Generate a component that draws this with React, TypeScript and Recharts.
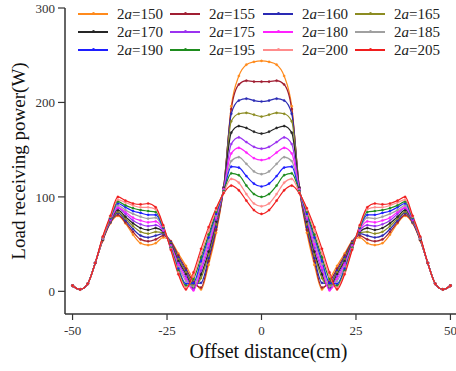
import { LineChart, Line, XAxis, YAxis, Legend } from "recharts";

const SERIF = "'Liberation Serif', 'Times New Roman', serif";
const AXIS = "#333";

// offset distance (cm), one sample every 2 cm
const offsets = [
  -50, -48, -46, -44, -42, -40, -38, -36, -34, -32, -30, -28, -26, -24, -22, -20, -18, -16, -14, -12, -10, -8, -6, -4, -2,
  0, 2, 4, 6, 8, 10, 12, 14, 16, 18, 20, 22, 24, 26, 28, 30, 32, 34, 36, 38, 40, 42, 44, 46, 48, 50,
];

const sizes = ["150", "155", "160", "165", "170", "175", "180", "185", "190", "195", "200", "205"];
const colors = [
  "#ff8a1c", "#a01e32", "#2a2ab4", "#8c8c22", "#262626", "#9b32f0",
  "#ff22ff", "#a0a0a0", "#1e1eff", "#1e8c1e", "#ff8c8c", "#f01e1e",
];

// load receiving power (W) per coil size 2a
const p150 = [6, 2, 8, 30, 54, 72, 80, 72, 60, 51, 49, 51, 57, 53, 40, 27, 13, 2, 28, 62, 110, 196, 228, 240, 243, 244,
  243, 240, 228, 196, 110, 62, 28, 2, 13, 27, 40, 53, 57, 51, 49, 51, 60, 72, 80, 72, 54, 30, 8, 2, 6];
const p155 = [6, 2, 8, 30, 54, 73, 81, 73, 63, 55, 53, 55, 59, 53, 38, 24, 10, 4, 32, 65, 110, 193, 219, 223, 222, 222,
  222, 223, 219, 193, 110, 65, 32, 4, 10, 24, 38, 53, 59, 55, 53, 55, 63, 73, 81, 73, 54, 30, 8, 2, 6];
const p160 = [6, 2, 8, 30, 55, 73, 83, 75, 66, 59, 57, 59, 61, 52, 36, 22, 8, 9, 35, 68, 110, 188, 202, 204, 202, 201,
  202, 204, 202, 188, 110, 68, 35, 9, 8, 22, 36, 52, 61, 59, 57, 59, 66, 75, 83, 73, 55, 30, 8, 2, 6];
const p165 = [6, 2, 8, 30, 55, 74, 84, 77, 69, 63, 61, 63, 62, 51, 34, 20, 6, 14, 39, 71, 109, 180, 188, 189, 187, 185,
  187, 189, 188, 180, 109, 71, 39, 14, 6, 20, 34, 51, 62, 63, 61, 63, 69, 77, 84, 74, 55, 30, 8, 2, 6];
const p170 = [6, 2, 8, 30, 55, 75, 86, 79, 72, 67, 65, 67, 63, 50, 32, 18, 4, 18, 42, 74, 109, 168, 175, 173, 169, 167,
  169, 173, 175, 168, 109, 74, 42, 18, 4, 18, 32, 50, 63, 67, 65, 67, 72, 79, 86, 75, 55, 30, 8, 2, 6];
const p175 = [6, 2, 8, 30, 56, 75, 88, 82, 75, 71, 69, 70, 64, 49, 30, 16, 2, 22, 46, 76, 108, 156, 163, 158, 153, 151,
  153, 158, 163, 156, 108, 76, 46, 22, 2, 16, 30, 49, 64, 70, 69, 71, 75, 82, 88, 75, 56, 30, 8, 2, 6];
const p180 = [6, 2, 8, 30, 56, 76, 89, 84, 78, 75, 73, 74, 65, 48, 28, 13, 1, 25, 50, 78, 108, 146, 152, 147, 141, 139,
  141, 147, 152, 146, 108, 78, 50, 25, 1, 13, 28, 48, 65, 74, 73, 75, 78, 84, 89, 76, 56, 30, 8, 2, 6];
const p185 = [6, 2, 8, 30, 56, 77, 91, 86, 82, 79, 77, 78, 66, 47, 26, 11, 5, 29, 53, 80, 107, 138, 142, 135, 127, 124,
  127, 135, 142, 138, 107, 80, 53, 29, 5, 11, 26, 47, 66, 78, 77, 79, 82, 86, 91, 77, 56, 30, 8, 2, 6];
const p190 = [6, 2, 8, 30, 57, 77, 93, 89, 85, 83, 81, 81, 67, 46, 24, 8, 9, 32, 57, 82, 106, 132, 131, 122, 114, 111,
  114, 122, 131, 132, 106, 82, 57, 32, 9, 8, 24, 46, 67, 81, 81, 83, 85, 89, 93, 77, 57, 30, 8, 2, 6];
const p195 = [6, 2, 8, 30, 57, 78, 95, 91, 88, 86, 85, 84, 68, 46, 22, 6, 13, 36, 60, 84, 106, 125, 123, 112, 103, 100,
  103, 112, 123, 125, 106, 84, 60, 36, 13, 6, 22, 46, 68, 84, 85, 86, 88, 91, 95, 78, 57, 30, 8, 2, 6];
const p200 = [6, 2, 8, 30, 57, 79, 97, 94, 91, 89, 89, 87, 69, 45, 20, 4, 16, 40, 64, 86, 105, 119, 115, 103, 93, 90,
  93, 103, 115, 119, 105, 86, 64, 40, 16, 4, 20, 45, 69, 87, 89, 89, 91, 94, 97, 79, 57, 30, 8, 2, 6];
const p205 = [6, 2, 8, 30, 58, 80, 100, 96, 93, 92, 93, 89, 70, 44, 18, 2, 20, 45, 68, 88, 104, 112, 107, 96, 86, 82,
  86, 96, 107, 112, 104, 88, 68, 45, 20, 2, 18, 44, 70, 89, 93, 92, 93, 96, 100, 80, 58, 30, 8, 2, 6];

const seriesValues = [p150, p155, p160, p165, p170, p175, p180, p185, p190, p195, p200, p205];

const xTicks = [-50, -25, 0, 25, 50];
const xMinorTicks = [-37.5, -12.5, 12.5, 37.5];
const yTicks = [0, 100, 200, 300];
const yMinorTicks = [50, 150, 250];

const data = offsets.map((x, i) => {
  const row: Record<string, number> = { x };
  sizes.forEach((s, k) => {
    row["a" + s] = seriesValues[k][i];
  });
  return row;
});

const legendCols = [78, 170, 263, 355];
const legendRows = [14, 32, 50];

const LegendBox = () => (
  <div style={{ position: "relative", width: 456, height: 62, fontFamily: SERIF, fontSize: 15, color: "#222" }}>
    {sizes.map((s, k) => (
      <div
        key={s}
        style={{
          position: "absolute",
          left: legendCols[k % 4],
          top: legendRows[Math.floor(k / 4)] - 9,
          height: 18,
          display: "flex",
          alignItems: "center",
          whiteSpace: "nowrap",
        }}
      >
        <span style={{ position: "relative", display: "inline-block", width: 30, height: 1.5, background: colors[k], marginRight: 9 }}>
          <span
            style={{
              position: "absolute",
              left: 13.5,
              top: -1,
              width: 3,
              height: 3,
              borderRadius: "50%",
              background: colors[k],
            }}
          />
        </span>
        <span>
          2<i>a</i>={s}
        </span>
      </div>
    ))}
  </div>
);

const tickStyle = { fontSize: 13, fill: "#333", fontFamily: SERIF, style: { fontFamily: SERIF } };

export default function App() {
  return (
    <div
      style={{
        position: "absolute",
        left: 0,
        top: 0,
        width: 456,
        height: 371,
        overflow: "hidden",
        background: "#fff",
        fontFamily: SERIF,
      }}
    >
      <LineChart width={458} height={371} data={data} margin={{ top: 8, right: 0, bottom: 0, left: 0 }}>
        <XAxis
          xAxisId="minor"
          type="number"
          dataKey="x"
          domain={[-52, 52]}
          ticks={xMinorTicks}
          tick={false}
          tickSize={4}
          height={0}
          axisLine={false}
          tickLine={{ stroke: AXIS, strokeWidth: 1.2 }}
        />
        <XAxis
          type="number"
          dataKey="x"
          domain={[-52, 52]}
          ticks={xTicks}
          height={57}
          tickSize={6}
          tickMargin={6}
          axisLine={{ stroke: AXIS, strokeWidth: 1.5 }}
          tickLine={{ stroke: AXIS, strokeWidth: 1.2 }}
          tick={tickStyle}
          label={{
            value: "Offset distance(cm)",
            position: "insideBottom",
            offset: 13,
            dx: 7,
            style: { fontSize: 20, fill: "#111", fontFamily: SERIF },
          }}
        />
        <YAxis
          yAxisId="minor"
          type="number"
          domain={[-24, 300]}
          ticks={yMinorTicks}
          tick={false}
          tickSize={4}
          width={0}
          axisLine={false}
          tickLine={{ stroke: AXIS, strokeWidth: 1.2 }}
        />
        <YAxis
          type="number"
          domain={[-24, 300]}
          ticks={yTicks}
          width={65}
          tickSize={7}
          tickMargin={3}
          axisLine={{ stroke: AXIS, strokeWidth: 1.5 }}
          tickLine={{ stroke: AXIS, strokeWidth: 1.2 }}
          tick={tickStyle}
          label={{
            value: "Load receiving power(W)",
            angle: -90,
            position: "insideLeft",
            offset: 7,
            dx: 11,
            style: { fontSize: 19, fill: "#111", fontFamily: SERIF, textAnchor: "middle" },
          }}
        />
        <Legend
          layout="vertical"
          align="center"
          verticalAlign="middle"
          wrapperStyle={{ top: 0, left: 0, width: 456, height: 62 }}
          content={() => <LegendBox />}
        />
        {sizes.map((s, k) => (
          <Line
            key={s}
            dataKey={"a" + s}
            type="monotone"
            stroke={colors[k]}
            strokeWidth={1.2}
            dot={{ r: 1.1, fill: colors[k], stroke: colors[k], strokeWidth: 0.4 }}
            activeDot={false}
            isAnimationActive={false}
          />
        ))}
      </LineChart>
    </div>
  );
}
